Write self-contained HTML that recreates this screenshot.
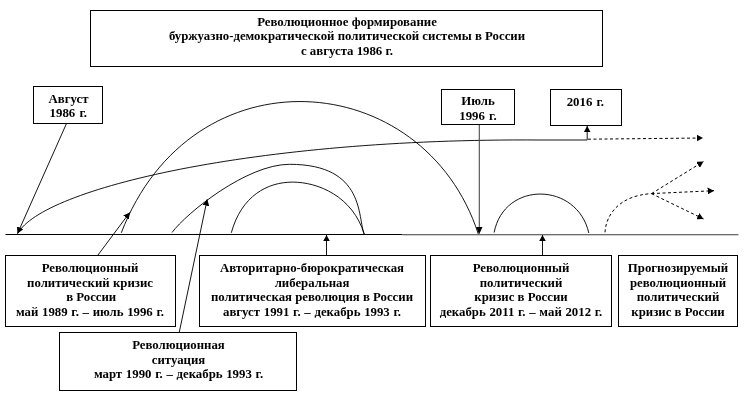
<!DOCTYPE html>
<html lang="ru">
<head>
<meta charset="utf-8">
<title>Схема</title>
<style>
html,body{margin:0;padding:0;background:#fff;}
body{width:748px;height:405px;overflow:hidden;position:relative;}
svg{will-change:transform;position:absolute;left:0;top:0;display:block;}
text{font-family:"Liberation Serif","DejaVu Serif",serif;font-weight:bold;font-size:12.8px;fill:#000;text-anchor:middle;}
.ln{fill:none;stroke:#000;stroke-width:0.92;}
.bx{fill:#fff;stroke:#000;stroke-width:1;}
.ds{fill:none;stroke:#000;stroke-width:1;stroke-dasharray:3 2.5;}
.ah{fill:#000;stroke:none;}
.dt{word-spacing:0.5px;}
.dy{word-spacing:1px;}
</style>
</head>
<body>
<svg width="748" height="405" viewBox="0 0 748 405">
<defs>
<marker id="ar" viewBox="0 0 6.4 7" refX="6.4" refY="3.5" markerWidth="6.4" markerHeight="7" orient="auto" markerUnits="userSpaceOnUse"><path d="M0,0 L6.4,3.5 L0,7 Z" fill="#000"/></marker>
</defs>

<!-- axis -->
<line x1="5.5" y1="234.5" x2="402.5" y2="234.5" stroke="#000" stroke-width="1.2"/>
<line x1="402.5" y1="234.75" x2="738.5" y2="234.75" stroke="#3a3a3a" stroke-width="1"/>

<!-- long curve -->
<path class="ln" d="M17.8,233.4 C42.5,188.6 253.2,138 540,140 L587.2,140"/>
<!-- big arc -->
<path class="ln" d="M121.3,232.8 C191.9,48.9 423.9,66.5 478.3,234"/>
<!-- second arc -->
<path class="ln" d="M172,232.5 C186.6,213 246.5,164.3 289.6,164.3 C365.8,164.3 357.4,218.3 364.3,234.3"/>
<!-- third arc -->
<path class="ln" d="M231.3,232.8 C241.5,195.6 267.7,182.1 292.6,182.1 C317.8,182.1 352.7,196.1 364.3,234.3"/>
<!-- fourth arc -->
<path class="ln" d="M494.1,232.5 C504.5,180.2 577.3,182.1 588.8,233"/>
<!-- dashed arc -->
<path class="ds" d="M605,232.3 C606,214.7 619.2,195.6 651.5,193.6"/>
<!-- dashed arrows -->
<line class="ds" x1="588" y1="139.2" x2="703" y2="138" marker-end="url(#ar)"/>
<line class="ds" x1="651.5" y1="193.6" x2="703.5" y2="161.5" marker-end="url(#ar)"/>
<line class="ds" x1="651.5" y1="193.6" x2="714" y2="190.7" marker-end="url(#ar)"/>
<line class="ds" x1="651.5" y1="193.6" x2="703.5" y2="219" marker-end="url(#ar)"/>

<!-- arrows -->
<line class="ln" x1="66.5" y1="123.5" x2="17.5" y2="233.6" marker-end="url(#ar)"/>
<line class="ln" x1="479.3" y1="124.5" x2="479.3" y2="228" style="stroke:#4a4a4a;stroke-width:1.1"/>
<path class="ah" d="M476,226.9 L482.5,226.9 L479.2,234.2 Z"/>
<line class="ln" x1="587.2" y1="140" x2="587.2" y2="126" marker-end="url(#ar)"/>
<line class="ln" x1="98" y1="255" x2="129.8" y2="212.4" marker-end="url(#ar)"/>
<line class="ln" x1="179.3" y1="332" x2="207.2" y2="199.3" marker-end="url(#ar)"/>
<line class="ln" x1="326.5" y1="255" x2="326.5" y2="235" marker-end="url(#ar)"/>
<line class="ln" x1="542.5" y1="255" x2="542.5" y2="235" marker-end="url(#ar)"/>

<!-- boxes -->
<rect class="bx" x="90.5" y="10.5" width="512" height="56"/>
<rect class="bx" x="33.5" y="86.5" width="69" height="37"/>
<rect class="bx" x="441.5" y="89.5" width="73" height="35"/>
<rect class="bx" x="550.5" y="89.5" width="71" height="36"/>
<rect class="bx" x="5.5" y="255.5" width="170" height="71"/>
<rect class="bx" x="59.5" y="332.5" width="237" height="58"/>
<rect class="bx" x="199.5" y="255.5" width="226" height="71"/>
<rect class="bx" x="430.5" y="255.5" width="181" height="71"/>
<rect class="bx" x="618.5" y="255.5" width="119" height="71"/>

<!-- text -->
<text x="347" y="25.5">Революционное формирование</text>
<text x="347" y="40">буржуазно-демократической политической системы в России</text>
<text x="347" y="54.5">с августа 1986 г.</text>

<text x="68.5" y="102.6">Август</text>
<text x="68.3" y="117" class="dy">1986 г.</text>

<text x="478" y="105">Июль</text>
<text x="478" y="119.5" class="dy">1996 г.</text>

<text x="585.4" y="105.6" class="dy">2016 г.</text>

<text x="90" y="271.7">Революционный</text>
<text x="90" y="286.5">политический кризис</text>
<text x="91.2" y="301.2">в России</text>
<text x="90" y="315.8" class="dt">май 1989 г. – июль 1996 г.</text>

<text x="178.5" y="348.7">Революционная</text>
<text x="178.5" y="363.7">ситуация</text>
<text x="178.5" y="378.4" class="dt">март 1990 г. – декабрь 1993 г.</text>

<text x="312" y="271.7">Авторитарно-бюрократическая</text>
<text x="312" y="286.5">либеральная</text>
<text x="312" y="301.2">политическая революция в России</text>
<text x="312" y="315.8" class="dt">август 1991 г. – декабрь 1993 г.</text>

<text x="521" y="271.7">Революционный</text>
<text x="521" y="286.5">политический</text>
<text x="521" y="301.2">кризис в России</text>
<text x="521" y="315.8" class="dt">декабрь 2011 г. – май 2012 г.</text>

<text x="678" y="271.7">Прогнозируемый</text>
<text x="678" y="286.5">революционный</text>
<text x="678" y="301.2">политический</text>
<text x="678" y="315.8">кризис в России</text>
</svg>
</body>
</html>
